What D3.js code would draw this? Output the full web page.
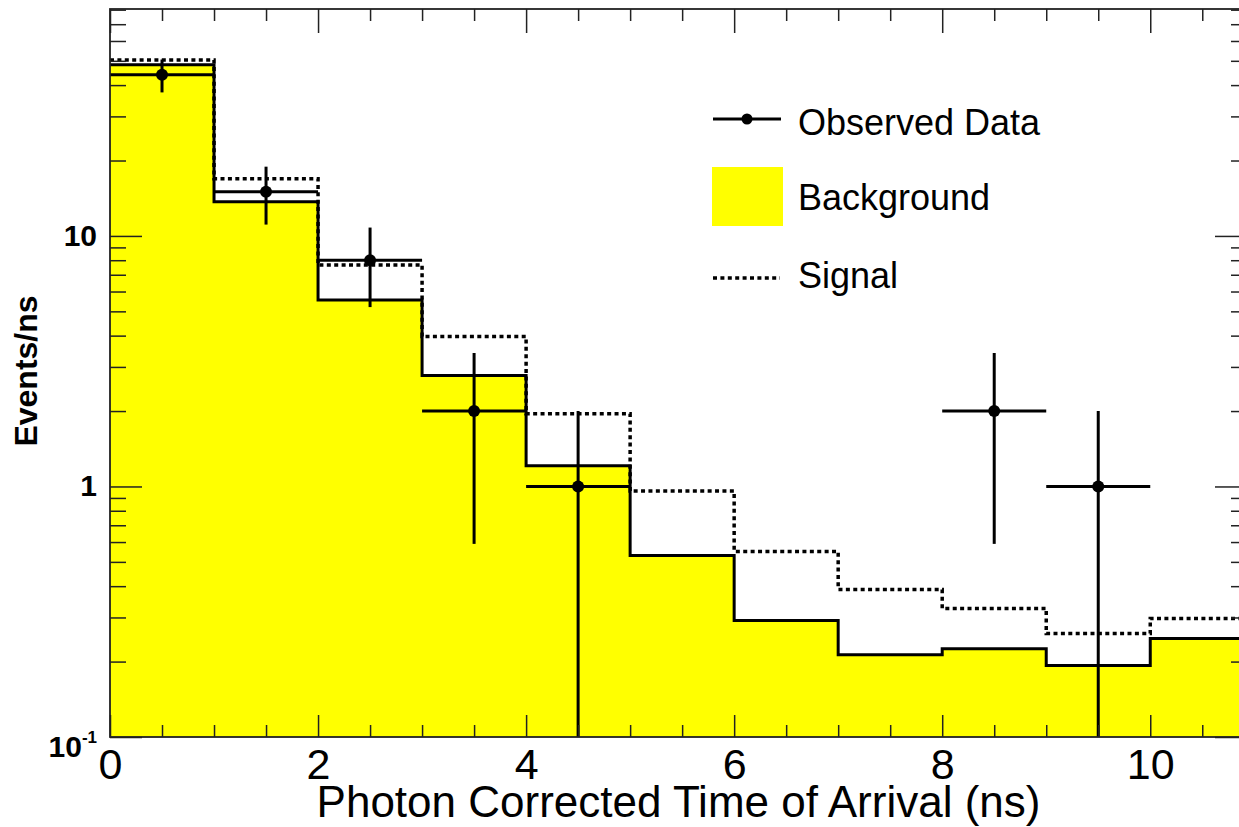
<!DOCTYPE html>
<html>
<head>
<meta charset="utf-8">
<script src="https://cdn.jsdelivr.net/npm/d3@7/dist/d3.min.js"></script>
<style>
	body { margin: 0; background: #fff; }
	text { font-family: "Liberation Sans", Arial, sans-serif; }
</style>
</head>
<body>
<script>
// bins of 1 ns, lower edges
var binLow = [0, 1, 2, 3, 4, 5, 6, 7, 8, 9, 10];
var binHigh = [1, 2, 3, 4, 5, 6, 7, 8, 9, 10, 11];

// histogram contents (events/ns)
var background = [48.2, 13.7, 5.55, 2.77, 1.21, 0.53, 0.292, 0.213, 0.225, 0.193, 0.247];
var signal = [50.4, 16.9, 7.66, 3.97, 1.95, 0.96, 0.55, 0.388, 0.326, 0.259, 0.297];
var observed = [44, 15, 8, 2, 1, 0, 0, 0, 2, 1, 0];
var observedErr = [6.6, 3.9, 2.8, 1.41, 1, 0, 0, 0, 1.41, 1, 0];

// ticks
var xMajor = [0, 2, 4, 6, 8, 10];
var xMinor = [0.5, 1, 1.5, 2.5, 3, 3.5, 4.5, 5, 5.5, 6.5, 7, 7.5, 8.5, 9, 9.5, 10.5];
var yMajor = [0.1, 1, 10];
var yMajorBase = ["10", "1", "10"];
var yMajorSup = ["-1", "", ""];
var yMinor = [0.2, 0.3, 0.4, 0.5, 0.6, 0.7, 0.8, 0.9, 2, 3, 4, 5, 6, 7, 8, 9, 20, 30, 40, 50, 60, 70, 80];

var legendNames = ["Observed Data", "Background", "Signal"];

// frame of the pad
var W = 1239, H = 827;
var frame = {left: 110, top: 9, right: 1247, bottom: 737};

var svg = d3.select("body").append("svg")
	.attr("width", W)
	.attr("height", H);

var x = d3.scaleLinear().domain([0, 10.93]).range([frame.left, frame.right]);
var y = d3.scaleLog().domain([0.1, 80.5]).range([frame.bottom, frame.top]);

svg.append("clipPath").attr("id", "plotclip")
	.append("rect")
	.attr("x", frame.left).attr("y", frame.top)
	.attr("width", frame.right - frame.left)
	.attr("height", frame.bottom - frame.top);

var plot = svg.append("g").attr("clip-path", "url(#plotclip)");

// step points for a histogram
function steps(values) {
	var pts = binLow.map(function(d, i) { return [d, values[i]]; });
	pts.push([binHigh[binHigh.length - 1], values[values.length - 1]]);
	return pts;
}

var stepLine = d3.line()
	.x(function(d) { return x(d[0]); })
	.y(function(d) { return y(d[1]); })
	.curve(d3.curveStepAfter);

var stepArea = d3.area()
	.x(function(d) { return x(d[0]); })
	.y0(frame.bottom)
	.y1(function(d) { return y(d[1]); })
	.curve(d3.curveStepAfter);

// background filled yellow
plot.append("path")
	.datum(steps(background))
	.attr("d", stepArea)
	.attr("fill", "#ffff00");

// signal dotted
plot.append("path")
	.datum(steps(signal))
	.attr("d", stepLine)
	.attr("fill", "none")
	.attr("stroke", "#000")
	.attr("stroke-width", 3.5)
	.attr("stroke-dasharray", "4,3.4");

// background outline
plot.append("path")
	.datum(steps(background))
	.attr("d", stepLine)
	.attr("fill", "none")
	.attr("stroke", "#000")
	.attr("stroke-width", 3);

// axes ticks
function tickAxis(axis, values, size, transform) {
	var g = svg.append("g")
		.attr("transform", transform)
		.call(axis.tickValues(values).tickSize(size).tickFormat(""));
	g.select(".domain").remove();
	g.selectAll("line").attr("stroke", "#222").attr("stroke-width", 1.5);
	return g;
}

tickAxis(d3.axisLeft(y), yMinor, -16, "translate(" + frame.left + ",0)");
tickAxis(d3.axisLeft(y), yMajor, -32, "translate(" + frame.left + ",0)");
tickAxis(d3.axisRight(y), yMinor, -16, "translate(" + frame.right + ",0)");
tickAxis(d3.axisRight(y), yMajor, -32, "translate(" + frame.right + ",0)");
tickAxis(d3.axisBottom(x), xMinor, -12, "translate(0," + frame.bottom + ")");
tickAxis(d3.axisBottom(x), xMajor, -22, "translate(0," + frame.bottom + ")");
tickAxis(d3.axisTop(x), xMinor, -12, "translate(0," + frame.top + ")");
tickAxis(d3.axisTop(x), xMajor, -24, "translate(0," + frame.top + ")");

// frame
svg.append("rect")
	.attr("x", frame.left).attr("y", frame.top)
	.attr("width", frame.right - frame.left)
	.attr("height", frame.bottom - frame.top)
	.attr("fill", "none")
	.attr("stroke", "#222")
	.attr("stroke-width", 1.8);

// x labels
var xLab = svg.append("g")
	.attr("transform", "translate(0," + frame.bottom + ")")
	.call(d3.axisBottom(x).tickValues(xMajor).tickSize(0).tickFormat(d3.format("d")));
xLab.select(".domain").remove();
xLab.selectAll("text")
	.attr("y", 42)
	.attr("dy", 0)
	.attr("fill", "#000")
	.style("font-size", "43px")
	.style("font-family", "'Liberation Sans', Arial, sans-serif");

// y labels
yMajor.forEach(function(v, i) {
	var t = svg.append("text")
		.attr("x", 97)
		.attr("y", y(v) + (yMajorSup[i] ? 20 : 10))
		.attr("text-anchor", "end")
		.attr("font-weight", "bold")
		.attr("font-size", 30)
		.attr("fill", "#000");
	t.append("tspan").text(yMajorBase[i]);
	if (yMajorSup[i]) {
		t.append("tspan")
			.attr("font-size", 17)
			.attr("dy", -14)
			.text(yMajorSup[i]);
	}
});

// axis titles
svg.append("text")
	.attr("x", (frame.left + frame.right) / 2)
	.attr("y", 817)
	.attr("text-anchor", "middle")
	.attr("font-size", 44)
	.attr("fill", "#000")
	.text("Photon Corrected Time of Arrival (ns)");

svg.append("text")
	.attr("transform", "translate(37,371) rotate(-90)")
	.attr("text-anchor", "middle")
	.attr("font-weight", "bold")
	.attr("font-size", 32)
	.attr("fill", "#000")
	.text("Events/ns");

// observed data with error bars
var dataG = plot.append("g");
observed.forEach(function(n, i) {
	if (n <= 0) return;
	var xc = (binLow[i] + binHigh[i]) / 2;
	var lo = Math.max(n - observedErr[i], y.domain()[0]);
	var hi = n + observedErr[i];
	dataG.append("line")
		.attr("x1", x(binLow[i])).attr("x2", x(binHigh[i]))
		.attr("y1", y(n)).attr("y2", y(n))
		.attr("stroke", "#000").attr("stroke-width", 3);
	dataG.append("line")
		.attr("x1", x(xc)).attr("x2", x(xc))
		.attr("y1", y(lo)).attr("y2", y(hi))
		.attr("stroke", "#000").attr("stroke-width", 3);
	dataG.append("circle")
		.attr("cx", x(xc)).attr("cy", y(n))
		.attr("r", 6)
		.attr("fill", "#000");
});

// legend
var leg = svg.append("g");
leg.append("line")
	.attr("x1", 713).attr("x2", 781).attr("y1", 119).attr("y2", 119)
	.attr("stroke", "#000").attr("stroke-width", 3);
leg.append("circle").attr("cx", 747).attr("cy", 119).attr("r", 5.5).attr("fill", "#000");
leg.append("rect")
	.attr("x", 712).attr("y", 167).attr("width", 71).attr("height", 59)
	.attr("fill", "#ffff00");
leg.append("line")
	.attr("x1", 713).attr("x2", 780).attr("y1", 278).attr("y2", 278)
	.attr("stroke", "#000").attr("stroke-width", 3.5)
	.attr("stroke-dasharray", "4,3.4");
var legY = [135, 210, 288];
legendNames.forEach(function(name, i) {
	leg.append("text")
		.attr("x", 798)
		.attr("y", legY[i])
		.attr("font-size", 36)
		.attr("fill", "#000")
		.text(name);
});
</script>
</body>
</html>
